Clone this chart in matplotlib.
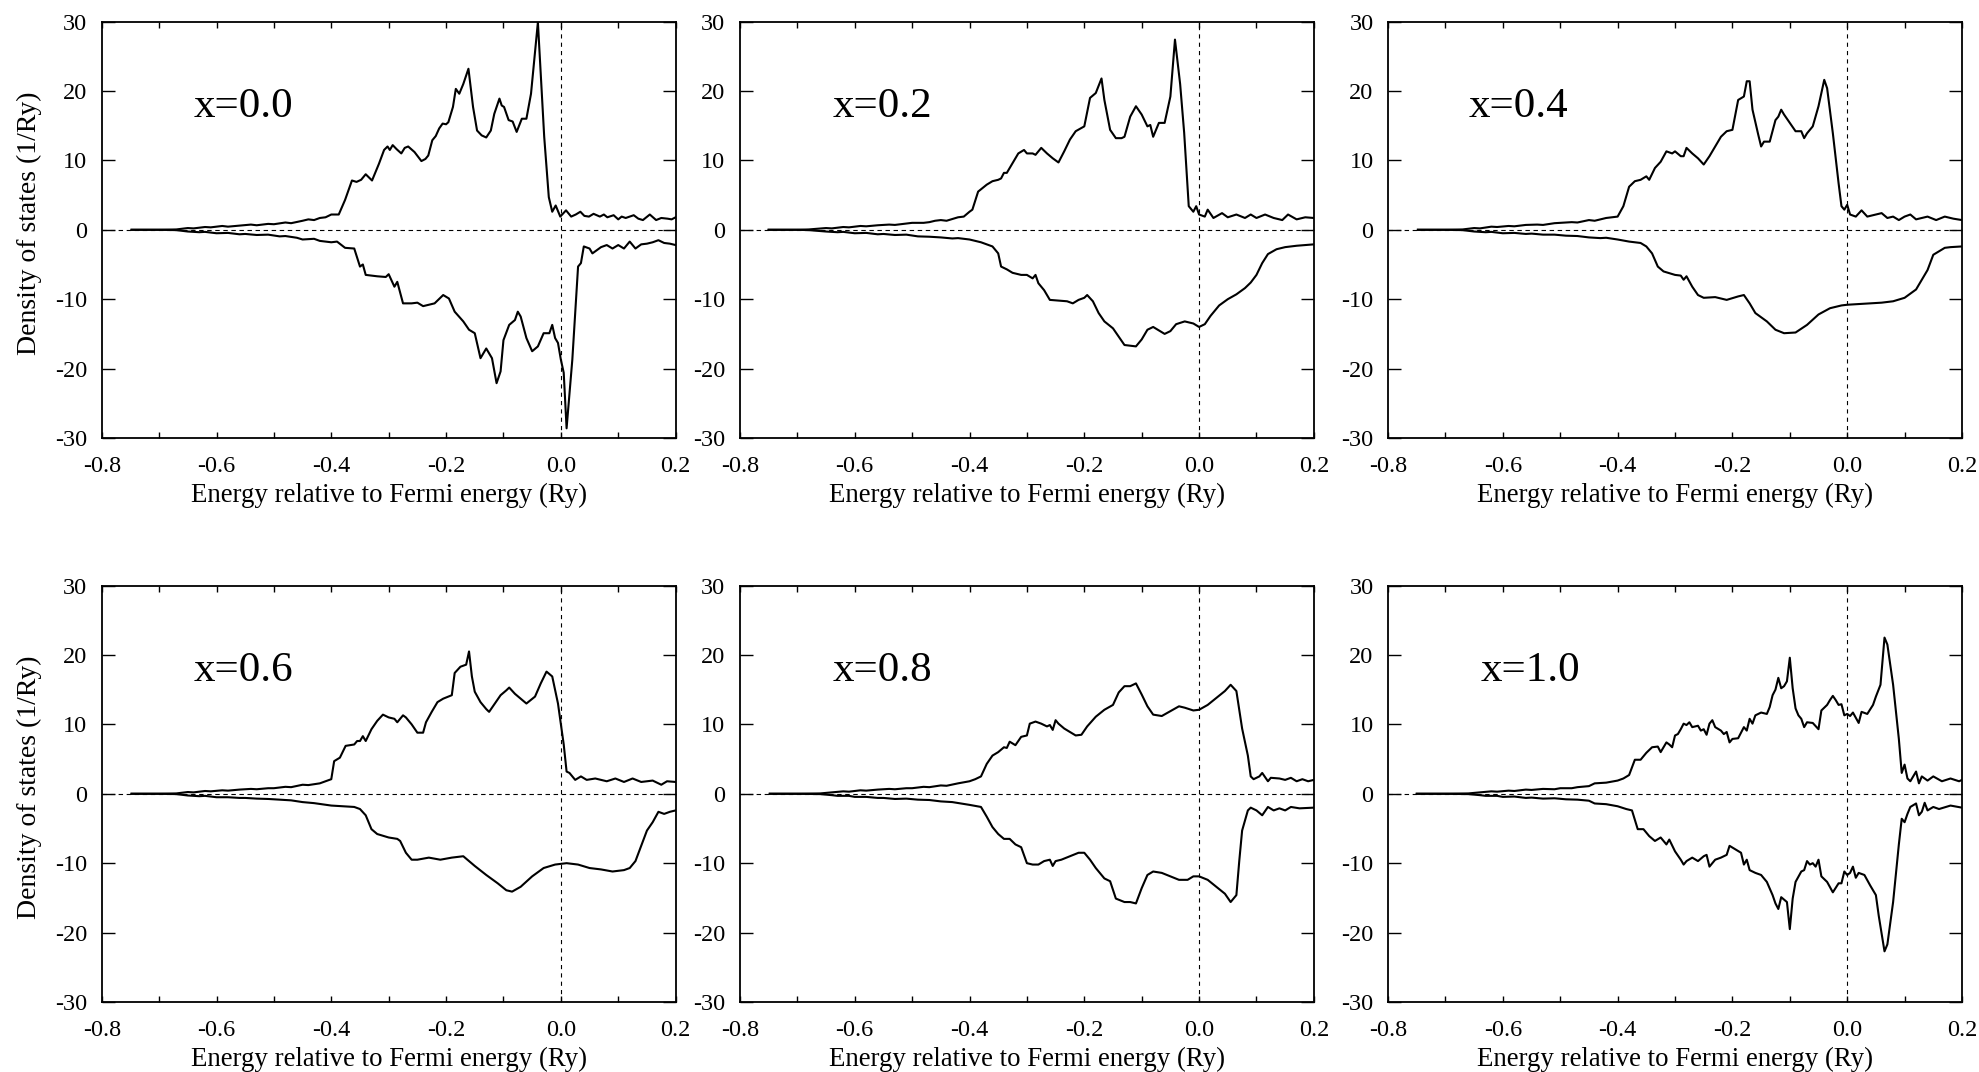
import matplotlib
matplotlib.use("Agg")
import matplotlib.pyplot as plt

plt.rcParams['font.family'] = ['Liberation Serif', 'DejaVu Serif']
plt.rcParams['axes.unicode_minus'] = False
plt.rcParams['lines.scale_dashes'] = False

# ---------------- data ----------------
panel_labels = ["x=0.0", "x=0.2", "x=0.4", "x=0.6", "x=0.8", "x=1.0"]
xtick_vals = [-0.8, -0.6, -0.4, -0.2, 0.0, 0.2]
xtick_labels = ["-0.8", "-0.6", "-0.4", "-0.2", "0.0", "0.2"]
xminor_vals = [-0.7, -0.5, -0.3, -0.1, 0.1]
ytick_vals = [30, 20, 10, 0, -10, -20, -30]
ytick_labels = ["30", "20", "10", "0", "-10", "-20", "-30"]
xlabel_text = "Energy relative to Fermi energy (Ry)"
ylabel_text = "Density of states (1/Ry)"

# x = 0.0
e_up_00 = [-0.748, -0.70, -0.67, -0.65, -0.64, -0.62, -0.61, -0.59, -0.58, -0.56, -0.54, -0.53, -0.51, -0.50,
           -0.48, -0.47, -0.45, -0.44, -0.43, -0.42, -0.41, -0.40, -0.387, -0.376, -0.364, -0.356, -0.348,
           -0.34, -0.329, -0.317, -0.308, -0.302, -0.298, -0.293, -0.286, -0.278, -0.272, -0.266, -0.255,
           -0.243, -0.236, -0.231, -0.224, -0.218, -0.212, -0.206, -0.200, -0.196, -0.188, -0.183, -0.177,
           -0.170, -0.161, -0.153, -0.146, -0.138, -0.130, -0.122, -0.116, -0.107, -0.103, -0.099, -0.091,
           -0.084, -0.077, -0.068, -0.060, -0.052, -0.040, -0.029, -0.021, -0.015, -0.009, -0.001, 0.009,
           0.018, 0.026, 0.034, 0.041, 0.049, 0.057, 0.068, 0.075, 0.081, 0.092, 0.100, 0.106, 0.113,
           0.120, 0.127, 0.135, 0.143, 0.155, 0.166, 0.175, 0.186, 0.193, 0.200]
dos_up_00 = [0, 0, 0.05, 0.25, 0.2, 0.4, 0.35, 0.55, 0.45, 0.6, 0.75, 0.65, 0.85, 0.8,
             1.05, 0.95, 1.3, 1.5, 1.4, 1.7, 1.8, 2.2, 2.2, 4.3, 7.1, 6.9, 7.2,
             8.0, 7.1, 9.5, 11.5, 12.0, 11.5, 12.2, 11.6, 11.0, 11.8, 12.0, 11.2,
             9.9, 10.2, 10.7, 12.9, 13.5, 14.6, 15.3, 15.2, 15.5, 17.7, 20.3, 19.6,
             21.0, 23.2, 17.7, 14.3, 13.6, 13.3, 14.3, 16.7, 18.9, 17.9, 17.7, 15.8,
             15.6, 14.1, 16.0, 16.0, 19.6, 29.9, 13.4, 4.7, 2.6, 3.5, 1.9, 2.8,
             1.9, 2.2, 2.6, 2.0, 1.9, 2.3, 1.9, 2.2, 1.8, 2.1, 1.5, 1.9, 1.7,
             1.9, 2.1, 1.6, 1.4, 2.2, 1.4, 1.7, 1.6, 1.5, 1.8]
e_dn_00 = [-0.748, -0.70, -0.67, -0.65, -0.63, -0.62, -0.60, -0.58, -0.56, -0.55, -0.53, -0.51, -0.49, -0.48,
           -0.46, -0.45, -0.43, -0.42, -0.40, -0.39, -0.376, -0.36, -0.35, -0.345, -0.34, -0.32, -0.305,
           -0.30, -0.29, -0.285, -0.275, -0.26, -0.25, -0.24, -0.22, -0.205, -0.195, -0.185, -0.17, -0.16,
           -0.15, -0.14, -0.13, -0.12, -0.112, -0.105, -0.10, -0.09, -0.08, -0.075, -0.07, -0.06, -0.05,
           -0.04, -0.03, -0.02, -0.015, -0.01, -0.005, 0.0, 0.005, 0.01, 0.02, 0.03, 0.035, 0.04, 0.05,
           0.055, 0.07, 0.08, 0.09, 0.10, 0.11, 0.12, 0.13, 0.14, 0.15, 0.16, 0.17, 0.18, 0.19, 0.20]
dos_dn_00 = [0, 0, -0.05, -0.25, -0.35, -0.3, -0.5, -0.45, -0.65, -0.6, -0.75, -0.7, -0.95, -0.9,
             -1.15, -1.4, -1.3, -1.6, -1.8, -1.7, -2.6, -2.7, -5.3, -5.0, -6.5, -6.7, -6.8,
             -6.4, -8.2, -7.5, -10.6, -10.6, -10.5, -11.0, -10.6, -9.4, -9.9, -11.8, -13.2, -14.4,
             -14.9, -18.5, -17.1, -18.5, -22.1, -20.4, -15.9, -13.7, -13.0, -11.8, -12.5, -15.6, -17.5,
             -16.8, -14.9, -14.9, -13.7, -15.6, -16.3, -18.7, -20.6, -28.6, -18.7, -5.3, -4.8, -2.4, -2.7,
             -3.4, -2.5, -2.2, -2.7, -2.2, -2.7, -1.7, -2.7, -2.1, -2.0, -1.8, -1.5, -1.9, -2.0, -2.2]

# x = 0.2
e_up_02 = [-0.75, -0.70, -0.68, -0.65, -0.64, -0.62, -0.61, -0.59, -0.58, -0.56, -0.54, -0.53, -0.51, -0.50,
           -0.48, -0.47, -0.46, -0.45, -0.44, -0.42, -0.41, -0.40, -0.395, -0.385, -0.37, -0.36, -0.35,
           -0.345, -0.34, -0.335, -0.325, -0.315, -0.305, -0.30, -0.29, -0.285, -0.275, -0.265, -0.255,
           -0.245, -0.235, -0.225, -0.215, -0.20, -0.19, -0.18, -0.17, -0.165, -0.155, -0.145, -0.135,
           -0.13, -0.12, -0.11, -0.10, -0.09, -0.085, -0.08, -0.07, -0.06, -0.05, -0.042, -0.033, -0.026,
           -0.018, -0.01, -0.005, 0.0, 0.01, 0.015, 0.025, 0.04, 0.05, 0.065, 0.08, 0.09, 0.10, 0.115,
           0.13, 0.145, 0.155, 0.17, 0.185, 0.20]
dos_up_02 = [0, 0, 0.05, 0.25, 0.2, 0.4, 0.35, 0.55, 0.5, 0.65, 0.75, 0.7, 0.9, 1.0,
             1.0, 1.1, 1.3, 1.4, 1.3, 1.8, 1.9, 2.6, 2.9, 5.5, 6.5, 7.0, 7.2,
             7.4, 8.2, 8.2, 9.6, 11.0, 11.5, 11.0, 11.0, 10.8, 11.8, 11.0, 10.3,
             9.7, 11.3, 13.0, 14.2, 14.9, 19.0, 19.7, 21.8, 18.7, 14.4, 13.2, 13.2,
             13.4, 16.3, 17.8, 16.6, 14.9, 15.1, 13.4, 15.4, 15.4, 19.2, 27.4, 21.0, 14.0,
             3.4, 2.6, 3.4, 2.2, 1.9, 2.9, 1.7, 2.4, 1.8, 2.2, 1.7, 2.2, 1.7, 2.2,
             1.7, 1.4, 2.2, 1.5, 1.8, 1.7]
e_dn_02 = [-0.75, -0.70, -0.68, -0.65, -0.63, -0.62, -0.60, -0.58, -0.56, -0.55, -0.53, -0.51, -0.49, -0.47,
           -0.45, -0.43, -0.42, -0.40, -0.38, -0.36, -0.35, -0.345, -0.335, -0.325, -0.31, -0.30, -0.29,
           -0.285, -0.28, -0.27, -0.26, -0.245, -0.23, -0.22, -0.21, -0.20, -0.195, -0.185, -0.175, -0.165,
           -0.15, -0.14, -0.13, -0.12, -0.11, -0.10, -0.09, -0.08, -0.07, -0.06, -0.05, -0.04, -0.025,
           -0.01, 0.0, 0.01, 0.02, 0.035, 0.05, 0.065, 0.08, 0.09, 0.10, 0.11, 0.12, 0.135, 0.15, 0.17, 0.20]
dos_dn_02 = [0, 0, -0.05, -0.25, -0.35, -0.3, -0.5, -0.45, -0.65, -0.6, -0.75, -0.7, -0.95, -1.0,
             -1.1, -1.25, -1.2, -1.4, -1.8, -2.4, -3.4, -5.3, -5.7, -6.2, -6.5, -6.5, -7.0,
             -6.5, -7.7, -8.7, -10.1, -10.2, -10.3, -10.6, -10.1, -9.8, -9.4, -10.3, -12.0, -13.2,
             -14.2, -15.4, -16.6, -16.7, -16.8, -15.8, -14.4, -14.0, -14.5, -15.0, -14.6, -13.6, -13.2,
             -13.5, -14.0, -13.6, -12.4, -10.9, -10.0, -9.3, -8.4, -7.6, -6.5, -4.8, -3.5, -2.8, -2.5, -2.3, -2.1]

# x = 0.4
e_up_04 = [-0.748, -0.70, -0.67, -0.65, -0.64, -0.62, -0.61, -0.59, -0.58, -0.56, -0.54, -0.53, -0.51, -0.50,
           -0.48, -0.47, -0.45, -0.44, -0.42, -0.40, -0.39, -0.38, -0.37, -0.36, -0.35, -0.345, -0.335,
           -0.325, -0.315, -0.305, -0.30, -0.29, -0.285, -0.28, -0.27, -0.26, -0.25, -0.24, -0.23, -0.22,
           -0.21, -0.20, -0.19, -0.18, -0.175, -0.17, -0.165, -0.155, -0.15, -0.145, -0.135, -0.125, -0.12,
           -0.115, -0.11, -0.10, -0.09, -0.08, -0.075, -0.07, -0.06, -0.05, -0.04, -0.035, -0.025, -0.015,
           -0.01, -0.005, 0.0, 0.005, 0.015, 0.025, 0.035, 0.05, 0.06, 0.07, 0.08, 0.09, 0.10, 0.11, 0.12,
           0.14, 0.155, 0.17, 0.185, 0.20]
dos_up_04 = [0, 0, 0.05, 0.25, 0.2, 0.45, 0.4, 0.55, 0.5, 0.7, 0.75, 0.7, 0.95, 1.0,
             1.1, 1.05, 1.4, 1.3, 1.7, 1.9, 3.4, 6.2, 7.0, 7.2, 7.7, 7.2, 8.9,
             9.8, 11.3, 11.0, 11.3, 10.6, 10.6, 11.8, 11.0, 10.3, 9.4, 10.6, 12.0, 13.4,
             14.2, 14.4, 18.7, 19.2, 21.4, 21.4, 17.3, 13.7, 12.0, 12.7, 12.7, 15.8, 16.3,
             17.3, 16.6, 15.4, 14.2, 14.2, 13.2, 13.9, 14.9, 17.8, 21.6, 20.4, 13.9, 6.7,
             3.4, 2.9, 3.6, 2.2, 1.9, 2.8, 1.9, 2.2, 2.4, 1.7, 1.9, 1.4, 1.9, 2.2, 1.5,
             1.9, 1.4, 1.9, 1.6, 1.4]
e_dn_04 = [-0.748, -0.70, -0.67, -0.65, -0.63, -0.62, -0.60, -0.58, -0.56, -0.55, -0.53, -0.51, -0.49, -0.47,
           -0.45, -0.43, -0.42, -0.40, -0.38, -0.36, -0.35, -0.34, -0.33, -0.32, -0.30, -0.29, -0.285,
           -0.28, -0.27, -0.26, -0.25, -0.23, -0.21, -0.19, -0.18, -0.17, -0.16, -0.14, -0.125, -0.11,
           -0.09, -0.07, -0.05, -0.03, -0.01, 0.0, 0.02, 0.04, 0.06, 0.08, 0.10, 0.12, 0.14, 0.15, 0.16,
           0.17, 0.18, 0.20]
dos_dn_04 = [0, 0, -0.05, -0.25, -0.35, -0.3, -0.5, -0.45, -0.6, -0.55, -0.7, -0.7, -0.85, -0.9,
             -1.1, -1.2, -1.15, -1.4, -1.7, -1.9, -2.4, -3.4, -5.3, -6.0, -6.5, -6.6, -7.2,
             -6.7, -8.2, -9.4, -9.8, -9.7, -10.1, -9.6, -9.4, -10.6, -12.0, -13.2, -14.4, -14.9,
             -14.8, -13.7, -12.2, -11.3, -10.9, -10.8, -10.7, -10.6, -10.5, -10.3, -9.8, -8.6, -5.8, -3.6, -3.1,
             -2.6, -2.5, -2.4]

# x = 0.6
e_up_06 = [-0.748, -0.70, -0.67, -0.65, -0.64, -0.62, -0.61, -0.59, -0.58, -0.56, -0.54, -0.53, -0.51, -0.50,
           -0.48, -0.47, -0.45, -0.44, -0.42, -0.40, -0.395, -0.385, -0.375, -0.36, -0.355, -0.35, -0.345,
           -0.34, -0.33, -0.32, -0.31, -0.30, -0.29, -0.285, -0.275, -0.27, -0.26, -0.25, -0.24, -0.235,
           -0.225, -0.215, -0.205, -0.19, -0.185, -0.175, -0.165, -0.16, -0.155, -0.15, -0.14, -0.13, -0.125,
           -0.115, -0.105, -0.095, -0.09, -0.08, -0.07, -0.06, -0.045, -0.035, -0.025, -0.015, -0.005, 0.005,
           0.01, 0.015, 0.025, 0.035, 0.045, 0.06, 0.08, 0.095, 0.11, 0.125, 0.14, 0.16, 0.175, 0.185, 0.20]
dos_up_06 = [0, 0, 0.05, 0.25, 0.2, 0.4, 0.35, 0.5, 0.45, 0.6, 0.7, 0.65, 0.8, 0.8,
             1.0, 0.95, 1.3, 1.25, 1.5, 2.1, 4.7, 5.2, 6.9, 7.1, 7.6, 7.6, 8.3,
             7.6, 9.3, 10.5, 11.4, 11.0, 10.8, 10.3, 11.3, 11.0, 10.0, 8.8, 8.8, 10.3,
             11.8, 13.2, 13.7, 14.2, 17.4, 18.3, 18.6, 20.5, 16.9, 14.7, 13.2, 12.2, 11.8,
             13.0, 14.2, 14.9, 15.3, 14.4, 13.7, 13.0, 14.0, 15.9, 17.6, 16.9, 13.0, 7.1,
             3.2, 3.0, 2.0, 2.5, 2.0, 2.2, 1.8, 2.2, 1.7, 2.2, 1.7, 1.9, 1.3, 1.8, 1.7]
e_dn_06 = [-0.748, -0.70, -0.67, -0.65, -0.63, -0.62, -0.60, -0.58, -0.56, -0.55, -0.53, -0.51, -0.49, -0.47,
           -0.45, -0.43, -0.40, -0.36, -0.35, -0.34, -0.33, -0.32, -0.30, -0.285, -0.28, -0.27, -0.26,
           -0.25, -0.23, -0.21, -0.19, -0.17, -0.15, -0.13, -0.11, -0.095, -0.085, -0.07, -0.05, -0.03,
           -0.01, 0.01, 0.03, 0.05, 0.07, 0.09, 0.11, 0.12, 0.13, 0.14, 0.15, 0.16, 0.17, 0.18, 0.19, 0.20]
dos_dn_06 = [0, 0, -0.05, -0.25, -0.35, -0.3, -0.5, -0.5, -0.6, -0.6, -0.7, -0.75, -0.85, -0.95,
             -1.2, -1.35, -1.7, -1.9, -2.2, -3.1, -5.1, -5.8, -6.3, -6.5, -6.8, -8.5, -9.5,
             -9.5, -9.2, -9.5, -9.2, -9.0, -10.4, -11.7, -12.9, -13.9, -14.1, -13.4, -11.9, -10.7,
             -10.2, -10.0, -10.2, -10.7, -10.9, -11.2, -11.0, -10.7, -9.7, -7.5, -5.3, -4.1, -2.6, -2.9, -2.6, -2.4]

# x = 0.8
e_up_08 = [-0.748, -0.70, -0.66, -0.64, -0.62, -0.61, -0.59, -0.58, -0.56, -0.54, -0.53, -0.51, -0.50, -0.48,
           -0.47, -0.45, -0.44, -0.42, -0.40, -0.39, -0.38, -0.37, -0.36, -0.35, -0.34, -0.335, -0.33,
           -0.32, -0.31, -0.30, -0.295, -0.285, -0.275, -0.265, -0.26, -0.255, -0.25, -0.245, -0.235,
           -0.225, -0.215, -0.205, -0.195, -0.18, -0.165, -0.15, -0.14, -0.13, -0.12, -0.11, -0.10, -0.09,
           -0.08, -0.065, -0.05, -0.035, -0.025, -0.01, 0.0, 0.015, 0.03, 0.045, 0.055, 0.065, 0.075,
           0.085, 0.09, 0.095, 0.105, 0.11, 0.12, 0.125, 0.14, 0.15, 0.16, 0.17, 0.18, 0.19, 0.20]
dos_up_08 = [0, 0, 0.05, 0.2, 0.35, 0.3, 0.5, 0.45, 0.6, 0.7, 0.65, 0.8, 0.8, 1.0,
             0.95, 1.2, 1.15, 1.5, 1.8, 2.1, 2.5, 4.3, 5.5, 6.0, 6.7, 6.6, 7.5,
             7.0, 8.2, 8.4, 10.1, 10.4, 10.1, 9.7, 9.9, 9.2, 10.6, 10.1, 9.4,
             8.9, 8.4, 8.5, 9.7, 11.1, 12.1, 12.8, 14.6, 15.5, 15.5, 15.9, 14.3, 12.6,
             11.4, 11.2, 11.9, 12.6, 12.4, 12.0, 12.1, 12.8, 13.8, 14.8, 15.7, 14.8, 9.4,
             5.5, 2.5, 2.1, 2.5, 3.0, 1.8, 2.3, 2.2, 2.0, 2.3, 1.8, 2.1, 1.8, 2.0]
e_dn_08 = [-0.748, -0.70, -0.66, -0.64, -0.63, -0.61, -0.60, -0.58, -0.56, -0.55, -0.53, -0.51, -0.49, -0.47,
           -0.45, -0.43, -0.40, -0.38, -0.37, -0.36, -0.35, -0.34, -0.33, -0.32, -0.31, -0.30, -0.29, -0.28,
           -0.27, -0.26, -0.255, -0.25, -0.24, -0.225, -0.21, -0.20, -0.19, -0.18, -0.165, -0.155, -0.145,
           -0.13, -0.12, -0.11, -0.10, -0.09, -0.08, -0.065, -0.05, -0.035, -0.02, -0.01, 0.0, 0.015, 0.03,
           0.045, 0.055, 0.065, 0.07, 0.075, 0.085, 0.09, 0.10, 0.11, 0.12, 0.13, 0.14, 0.15, 0.16, 0.175, 0.20]
dos_dn_08 = [0, 0, -0.05, -0.2, -0.3, -0.3, -0.45, -0.45, -0.6, -0.6, -0.75, -0.7, -0.85, -0.9,
             -1.1, -1.2, -1.6, -1.9, -3.3, -4.8, -5.8, -6.5, -6.5, -7.3, -7.7, -10.0, -10.2, -10.2,
             -9.7, -9.5, -10.4, -9.7, -9.5, -9.0, -8.5, -8.5, -9.5, -10.7, -12.2, -12.6, -15.1,
             -15.6, -15.6, -15.8, -13.6, -11.7, -11.2, -11.4, -11.9, -12.4, -12.4, -11.9, -11.9, -12.4, -13.4,
             -14.4, -15.6, -14.6, -9.7, -5.3, -2.4, -2.0, -2.4, -3.1, -1.9, -2.4, -2.1, -2.4, -1.9, -2.1, -2.0]

# x = 1.0
e_up_10 = [-0.75, -0.70, -0.66, -0.64, -0.62, -0.61, -0.59, -0.58, -0.56, -0.55, -0.53, -0.51, -0.50, -0.48,
           -0.47, -0.45, -0.44, -0.42, -0.40, -0.39, -0.38, -0.37, -0.36, -0.35, -0.34, -0.33, -0.325, -0.315,
           -0.31, -0.305, -0.30, -0.295, -0.29, -0.285, -0.28, -0.275, -0.27, -0.26, -0.255, -0.25, -0.245,
           -0.24, -0.235, -0.23, -0.22, -0.215, -0.21, -0.205, -0.20, -0.19, -0.18, -0.175, -0.17, -0.165,
           -0.16, -0.15, -0.14, -0.135, -0.13, -0.125, -0.12, -0.115, -0.11, -0.105, -0.10, -0.095, -0.09,
           -0.085, -0.08, -0.075, -0.07, -0.06, -0.05, -0.045, -0.035, -0.03, -0.025, -0.02, -0.015, -0.01,
           -0.005, 0.0, 0.005, 0.01, 0.02, 0.025, 0.035, 0.045, 0.05, 0.058, 0.065, 0.07, 0.08, 0.09, 0.095,
           0.10, 0.105, 0.11, 0.12, 0.125, 0.13, 0.14, 0.15, 0.165, 0.18, 0.195, 0.20]
dos_up_10 = [0, 0, 0.05, 0.2, 0.35, 0.3, 0.45, 0.4, 0.6, 0.55, 0.7, 0.65, 0.8, 0.8,
             0.95, 1.1, 1.5, 1.6, 1.9, 2.2, 2.7, 4.9, 4.9, 5.9, 6.7, 6.8, 6.0, 7.4,
             7.1, 6.7, 8.4, 8.6, 9.3, 10.1, 9.9, 10.3, 9.6, 9.8, 9.1, 9.3, 8.5,
             10.1, 10.6, 9.6, 9.1, 8.6, 8.9, 7.4, 7.9, 8.0, 9.6, 9.1, 10.8, 10.1,
             11.3, 11.7, 11.5, 12.5, 14.2, 15.0, 16.7, 15.2, 15.5, 16.2, 19.6, 15.2, 12.3,
             11.3, 10.8, 9.6, 10.3, 10.2, 9.3, 12.0, 12.8, 13.5, 14.1, 13.5, 12.8, 12.9,
             11.3, 11.5, 11.2, 11.7, 10.2, 11.8, 11.5, 12.8, 14.0, 15.7, 22.5, 21.5, 15.7, 7.9, 3.0,
             4.2, 2.2, 1.8, 3.2, 1.5, 2.5, 1.9, 2.5, 1.8, 2.2, 1.8, 2.0]
e_dn_10 = [-0.75, -0.70, -0.66, -0.64, -0.63, -0.61, -0.60, -0.58, -0.56, -0.55, -0.53, -0.51, -0.49, -0.47,
           -0.45, -0.44, -0.42, -0.40, -0.385, -0.375, -0.365, -0.355, -0.345, -0.335, -0.325, -0.315, -0.31,
           -0.30, -0.29, -0.285, -0.28, -0.27, -0.26, -0.25, -0.245, -0.24, -0.23, -0.22, -0.21, -0.205,
           -0.195, -0.185, -0.18, -0.175, -0.17, -0.16, -0.15, -0.14, -0.13, -0.125, -0.12, -0.115, -0.105,
           -0.10, -0.095, -0.09, -0.08, -0.075, -0.07, -0.065, -0.06, -0.055, -0.05, -0.045, -0.035, -0.025,
           -0.015, -0.01, -0.005, 0.0, 0.005, 0.01, 0.015, 0.02, 0.03, 0.04, 0.05, 0.055, 0.065, 0.07, 0.08,
           0.09, 0.095, 0.10, 0.105, 0.11, 0.12, 0.125, 0.13, 0.135, 0.14, 0.15, 0.16, 0.18, 0.20]
dos_dn_10 = [0, 0, -0.05, -0.2, -0.3, -0.3, -0.45, -0.4, -0.6, -0.55, -0.7, -0.65, -0.8, -0.85,
             -1.0, -1.4, -1.5, -1.8, -2.2, -2.4, -5.1, -5.1, -6.1, -6.8, -6.3, -7.3, -6.6,
             -8.3, -9.5, -10.2, -9.7, -9.2, -9.7, -9.0, -8.8, -10.5, -9.5, -9.2, -8.8, -7.5,
             -8.0, -8.5, -10.2, -9.5, -11.0, -11.4, -11.7, -12.7, -14.6, -15.8, -16.6, -14.9, -15.6,
             -19.5, -15.1, -12.7, -11.2, -11.0, -9.7, -10.2, -10.0, -10.5, -9.5, -11.9, -12.7, -14.2,
             -12.9, -12.9, -11.2, -11.7, -11.4, -10.5, -12.1, -11.4, -11.7, -13.2, -14.6, -17.6, -22.7, -21.7, -15.6,
             -7.3, -3.6, -4.1, -2.9, -1.9, -1.4, -3.1, -2.6, -1.3, -2.4, -1.9, -2.2, -1.7, -2.0]

energies_up = [e_up_00, e_up_02, e_up_04, e_up_06, e_up_08, e_up_10]
dos_up = [dos_up_00, dos_up_02, dos_up_04, dos_up_06, dos_up_08, dos_up_10]
energies_dn = [e_dn_00, e_dn_02, e_dn_04, e_dn_06, e_dn_08, e_dn_10]
dos_dn = [dos_dn_00, dos_dn_02, dos_dn_04, dos_dn_06, dos_dn_08, dos_dn_10]

# ---------------- layout ----------------
W, H = 1979, 1072
fig = plt.figure(figsize=(W / 100, H / 100), dpi=100)
col_left = [0.0514, 0.3739, 0.7014]
row_bottom = [0.5914, 0.0653]
ax_w, ax_h = 0.2900, 0.3885
label_x = [0.161, 0.161, 0.141, 0.161, 0.161, 0.161]

for i in range(6):
    r, c = divmod(i, 3)
    ax = fig.add_axes([col_left[c], row_bottom[r], ax_w, ax_h])
    ax.set_xlim(-0.8, 0.2)
    ax.set_ylim(-30, 30)
    ax.axhline(0, color='black', lw=0.8, ls=(0, (3.2, 2.6)), zorder=1)
    ax.axvline(0, color='black', lw=0.8, ls=(0, (3.0, 3.0)), zorder=1)
    ax.plot(energies_up[i], dos_up[i], color='black', lw=1.5, zorder=3)
    ax.plot(energies_dn[i], dos_dn[i], color='black', lw=1.5, zorder=3)

    ax.set_xticks(xtick_vals)
    ax.set_xticklabels(xtick_labels)
    ax.set_xticks(xminor_vals, minor=True)
    ax.set_yticks(ytick_vals)
    ax.set_yticklabels(ytick_labels)
    ax.tick_params(axis='x', which='both', direction='in', top=True, bottom=True,
                   length=4.3, width=1.0, labelsize=17.5, pad=13)
    ax.tick_params(axis='y', which='both', direction='in', left=True, right=True,
                   length=9.4, width=1.0, labelsize=17.5, pad=10.5)
    for sp in ax.spines.values():
        sp.set_linewidth(1.3)

    ax.set_xlabel(xlabel_text, fontsize=19.4)
    ax.xaxis.set_label_coords(0.5, -0.108)
    if c == 0:
        ax.set_ylabel(ylabel_text, fontsize=20)
        ax.yaxis.set_label_coords(-0.104, 0.515)

    ax.text(label_x[i], 0.77, panel_labels[i], transform=ax.transAxes,
            fontsize=31, ha='left', va='baseline')

fig.savefig("out.png", dpi=100)
